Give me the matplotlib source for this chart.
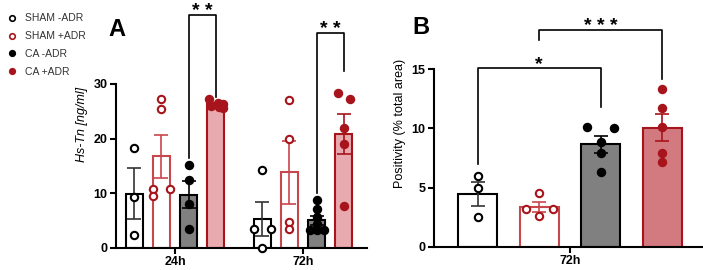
import numpy as np
import matplotlib.pyplot as plt
from matplotlib.lines import Line2D

# ---- data ----
groups = ["SHAM -ADR", "SHAM +ADR", "CA -ADR", "CA +ADR"]
timepoints_a = ["24h", "72h"]

# Panel A: Hs-Tn [ng/ml], individual animals
a_24h = [
    [18.3, 9.3, 2.3],
    [27.3, 25.5, 10.85, 9.45, 10.7],
    [15.1, 12.4, 8.1, 3.5],
    [27.2, 26.6, 26.3, 26.0, 25.8, 25.6],
]
a_72h = [
    [14.3, 3.4, 3.4, 0.0],
    [27.1, 20.0, 4.8, 3.4],
    [8.7, 7.2, 5.7, 4.3, 3.3, 3.3, 3.3],
    [28.3, 27.3, 22.0, 19.0, 7.6],
]
a_yticks = [0, 10, 20, 30]

# Panel B: positivity (% total area) at 72h
b_72h = [
    [5.98, 4.93, 2.54],
    [4.51, 3.16, 3.16, 2.6],
    [10.15, 10.0, 8.88, 7.95, 6.29],
    [13.34, 11.7, 10.15, 7.95, 7.19],
]
b_yticks = [0, 5, 10, 15]

# point jitter (x offsets, as fraction of bar width)
a_jit_24 = [[0, 0, 0], [0, 0, -0.5, -0.5, 0.5], [0, 0, 0, 0], [-0.4, 0.1, 0.4, -0.3, 0.2, 0.4]]
a_jit_72 = [[0, -0.5, 0.5, 0], [0, 0, 0, 0], [0, 0, 0, 0, -0.4, 0, 0.4], [-0.35, 0.35, 0, 0, 0]]
b_jit = [[0, 0, 0], [0, -0.35, 0.35, 0], [-0.35, 0.35, 0, 0, 0], [0, 0, 0, 0, 0]]

RED = "#A8141B"
LRED = "#C8474C"
edge_c = ["black", LRED, "black", RED]
fill_a = ["white", "white", "#808080", "#E8AAAE"]
fill_b = ["white", "white", "#808080", "#D27A80"]
pt_face = ["white", "white", "black", RED]
pt_edge = ["black", RED, "black", RED]
err_c = ["#333333", LRED, "black", RED]

plt.rcParams['font.family'] = ['Liberation Sans', 'DejaVu Sans']

fig = plt.figure(figsize=(7.03, 2.70), dpi=100)


def draw_group(ax, x, vals, width, i, jit):
    vals = np.array(vals)
    m = vals.mean()
    se = vals.std(ddof=1) / np.sqrt(len(vals))
    ax.bar(x, m, width=width, color=fill[i], edgecolor=edge_c[i], linewidth=1.5, zorder=2)
    ax.errorbar(x, m, yerr=se, fmt="none", ecolor=err_c[i], elinewidth=1.2,
                capsize=5, capthick=1.2, zorder=3)
    xs = x + np.array(jit) * width
    ax.scatter(xs, vals, s=28, facecolors=pt_face[i], edgecolors=pt_edge[i],
               linewidths=1.5, zorder=4, clip_on=False)


def bracket(ax, x1, x2, y_top, y1, y2, label):
    ax.plot([x1, x1, x2, x2], [y1, y_top, y_top, y2], color="black", lw=1.2,
            clip_on=False, zorder=5)
    ax.annotate(label, ((x1 + x2) / 2, y_top), xytext=(0, -0.5), textcoords="offset points",
                ha="center", va="baseline", fontsize=14, fontweight="bold",
                annotation_clip=False)


# ---- panel A ----
axA = fig.add_axes([116 / 703, 22 / 270, 251 / 703, 248 / 270])
offs = [-0.32, -0.107, 0.107, 0.32]
wA = 0.133
fill = fill_a
for g, (data, jits) in enumerate([(a_24h, a_jit_24), (a_72h, a_jit_72)]):
    for i in range(4):
        draw_group(axA, g + offs[i], data[i], wA, i, jits[i])
axA.set_xlim(-0.461, 1.5)
axA.set_ylim(0, 45.36)
axA.spines["left"].set_bounds(0, 30)
axA.spines[["top", "right"]].set_visible(False)
axA.spines["left"].set_linewidth(1.5)
axA.spines["bottom"].set_linewidth(1.5)
axA.set_yticks(a_yticks)
axA.set_yticklabels([str(t) for t in a_yticks], fontweight="bold", fontsize=9)
axA.set_xticks([0, 1])
axA.set_xticklabels(timepoints_a, fontweight="bold", fontsize=9)
axA.tick_params(width=1.5, length=4, pad=2)
axA.set_ylabel("Hs-Tn [ng/ml]", fontstyle="italic", fontsize=9, labelpad=4)
bracket(axA, offs[2], offs[3], 42.6, 16.4, 27.7, "* *")
bracket(axA, 1 + offs[2], 1 + offs[3], 39.3, 10.1, 32.3, "* *")
fig.text(108 / 703, 1 - 29 / 270, "A", fontsize=17, fontweight="bold", va="center")

# ---- panel B ----
axB = fig.add_axes([434 / 703, 23.3 / 270, 269 / 703, 246.7 / 270])
fill = fill_b
wB = 0.634
for i in range(4):
    draw_group(axB, i, b_72h[i], wB, i, b_jit[i])
axB.set_xlim(-0.711, 3.663)
axB.set_ylim(0, 20.87)
axB.spines["left"].set_bounds(0, 15)
axB.spines[["top", "right"]].set_visible(False)
axB.spines["left"].set_linewidth(1.5)
axB.spines["bottom"].set_linewidth(1.5)
axB.set_yticks(b_yticks)
axB.set_yticklabels([str(t) for t in b_yticks], fontweight="bold", fontsize=9)
axB.set_xticks([1.5])
axB.set_xticklabels(["72h"], fontweight="bold", fontsize=9)
axB.tick_params(width=1.5, length=4, pad=2)
axB.set_ylabel("Positivity (% total area)", fontsize=9, labelpad=4)
bracket(axB, 0, 2, 15.08, 7.0, 11.8, "*")
bracket(axB, 1, 3, 18.3, 17.5, 14.2, "* * *")
fig.text(412 / 703, 1 - 27 / 270, "B", fontsize=17, fontweight="bold", va="center")

# ---- legend ----
handles = [Line2D([], [], linestyle="none", marker="o", markersize=4,
                  markerfacecolor=pt_face[i], markeredgecolor=pt_edge[i],
                  markeredgewidth=1.2) for i in range(4)]
fig.legend(handles, groups, loc="upper left", bbox_to_anchor=(-0.004, 0.985),
           frameon=False, fontsize=7.5, handlelength=1.0, handletextpad=0.8,
           labelspacing=0.75, labelcolor="#333333")

fig.savefig("out.png", dpi=100)
